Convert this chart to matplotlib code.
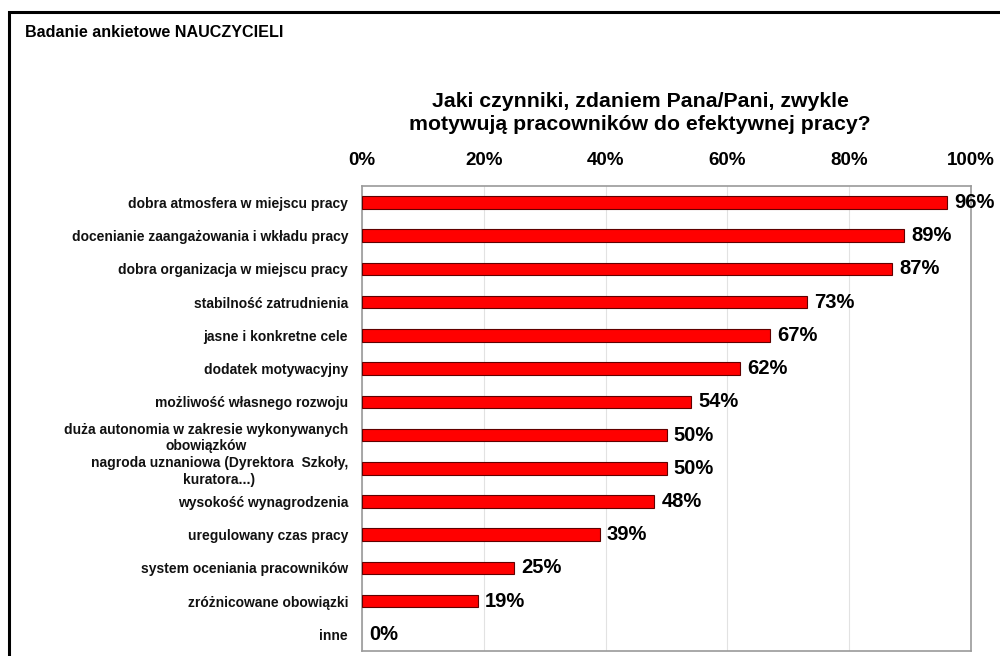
import matplotlib
matplotlib.use("Agg")
import matplotlib.pyplot as plt
from matplotlib.patches import Rectangle

plt.rcParams["font.family"] = ["Liberation Sans", "DejaVu Sans"]

HEADER = "Badanie ankietowe NAUCZYCIELI"
TITLE = "Jaki czynniki, zdaniem Pana/Pani, zwykle\nmotywują pracowników do efektywnej pracy?"
CATEGORIES = [
    "dobra atmosfera w miejscu pracy",
    "docenianie zaangażowania i wkładu pracy",
    "dobra organizacja w miejscu pracy",
    "stabilność zatrudnienia",
    "jasne i konkretne cele",
    "dodatek motywacyjny",
    "możliwość własnego rozwoju",
    "duża autonomia w zakresie wykonywanych\nobowiązków",
    "nagroda uznaniowa (Dyrektora  Szkoły,\nkuratora...)",
    "wysokość wynagrodzenia",
    "uregulowany czas pracy",
    "system oceniania pracowników",
    "zróżnicowane obowiązki",
    "inne",
]
VALUES = [0.96, 0.89, 0.87, 0.73, 0.67, 0.62, 0.54, 0.50, 0.50, 0.48, 0.39, 0.25, 0.19, 0.0]
TICKS = [0, 0.2, 0.4, 0.6, 0.8, 1.0]

fig = plt.figure(figsize=(10, 6.56), dpi=100)
fig.patches.append(Rectangle((0.009, -0.05), 1.1, 1.031, transform=fig.transFigure,
                             fill=False, edgecolor="black", linewidth=2.2))
fig.text(0.025, 0.951, HEADER, fontsize=11.6, fontweight="bold", va="center")
fig.text(0.64, 0.828, TITLE, fontsize=15.3, fontweight="bold", ha="center", va="center",
         linespacing=1.3)

ax = fig.add_axes([0.362, 0.0076, 0.609, 0.709])
pos = list(range(len(CATEGORIES)))
edges = ["#600000" if v > 0 else "none" for v in VALUES]
ax.barh(pos, VALUES, height=0.38, color="#ff0000", edgecolor=edges, linewidth=0.8, zorder=3)
for p, v in zip(pos, VALUES):
    ax.text(v + 0.012, p, f"{v:.0%}", va="center", ha="left", fontsize=14.5, fontweight="bold",
            zorder=4)

ax.set_xlim(0, 1.0)
ax.set_ylim(len(CATEGORIES) - 0.5, -0.5)
ax.set_yticks(pos)
ax.set_yticklabels(CATEGORIES, fontsize=10, fontweight="bold", multialignment="center",
                   linespacing=1.25, color="#111111")
ax.set_xticks(TICKS)
ax.set_xticklabels([f"{t:.0%}" for t in TICKS], fontsize=13.5, fontweight="bold")
ax.xaxis.tick_top()
ax.tick_params(axis="x", length=0, pad=12)
ax.tick_params(axis="y", length=0, pad=10)
ax.grid(axis="x", color="#e2e2e2", linewidth=0.8, zorder=0)
for s in ax.spines.values():
    s.set_color("#9a9a9a")
    s.set_linewidth(1.2)

fig.savefig("out.png", dpi=100)
